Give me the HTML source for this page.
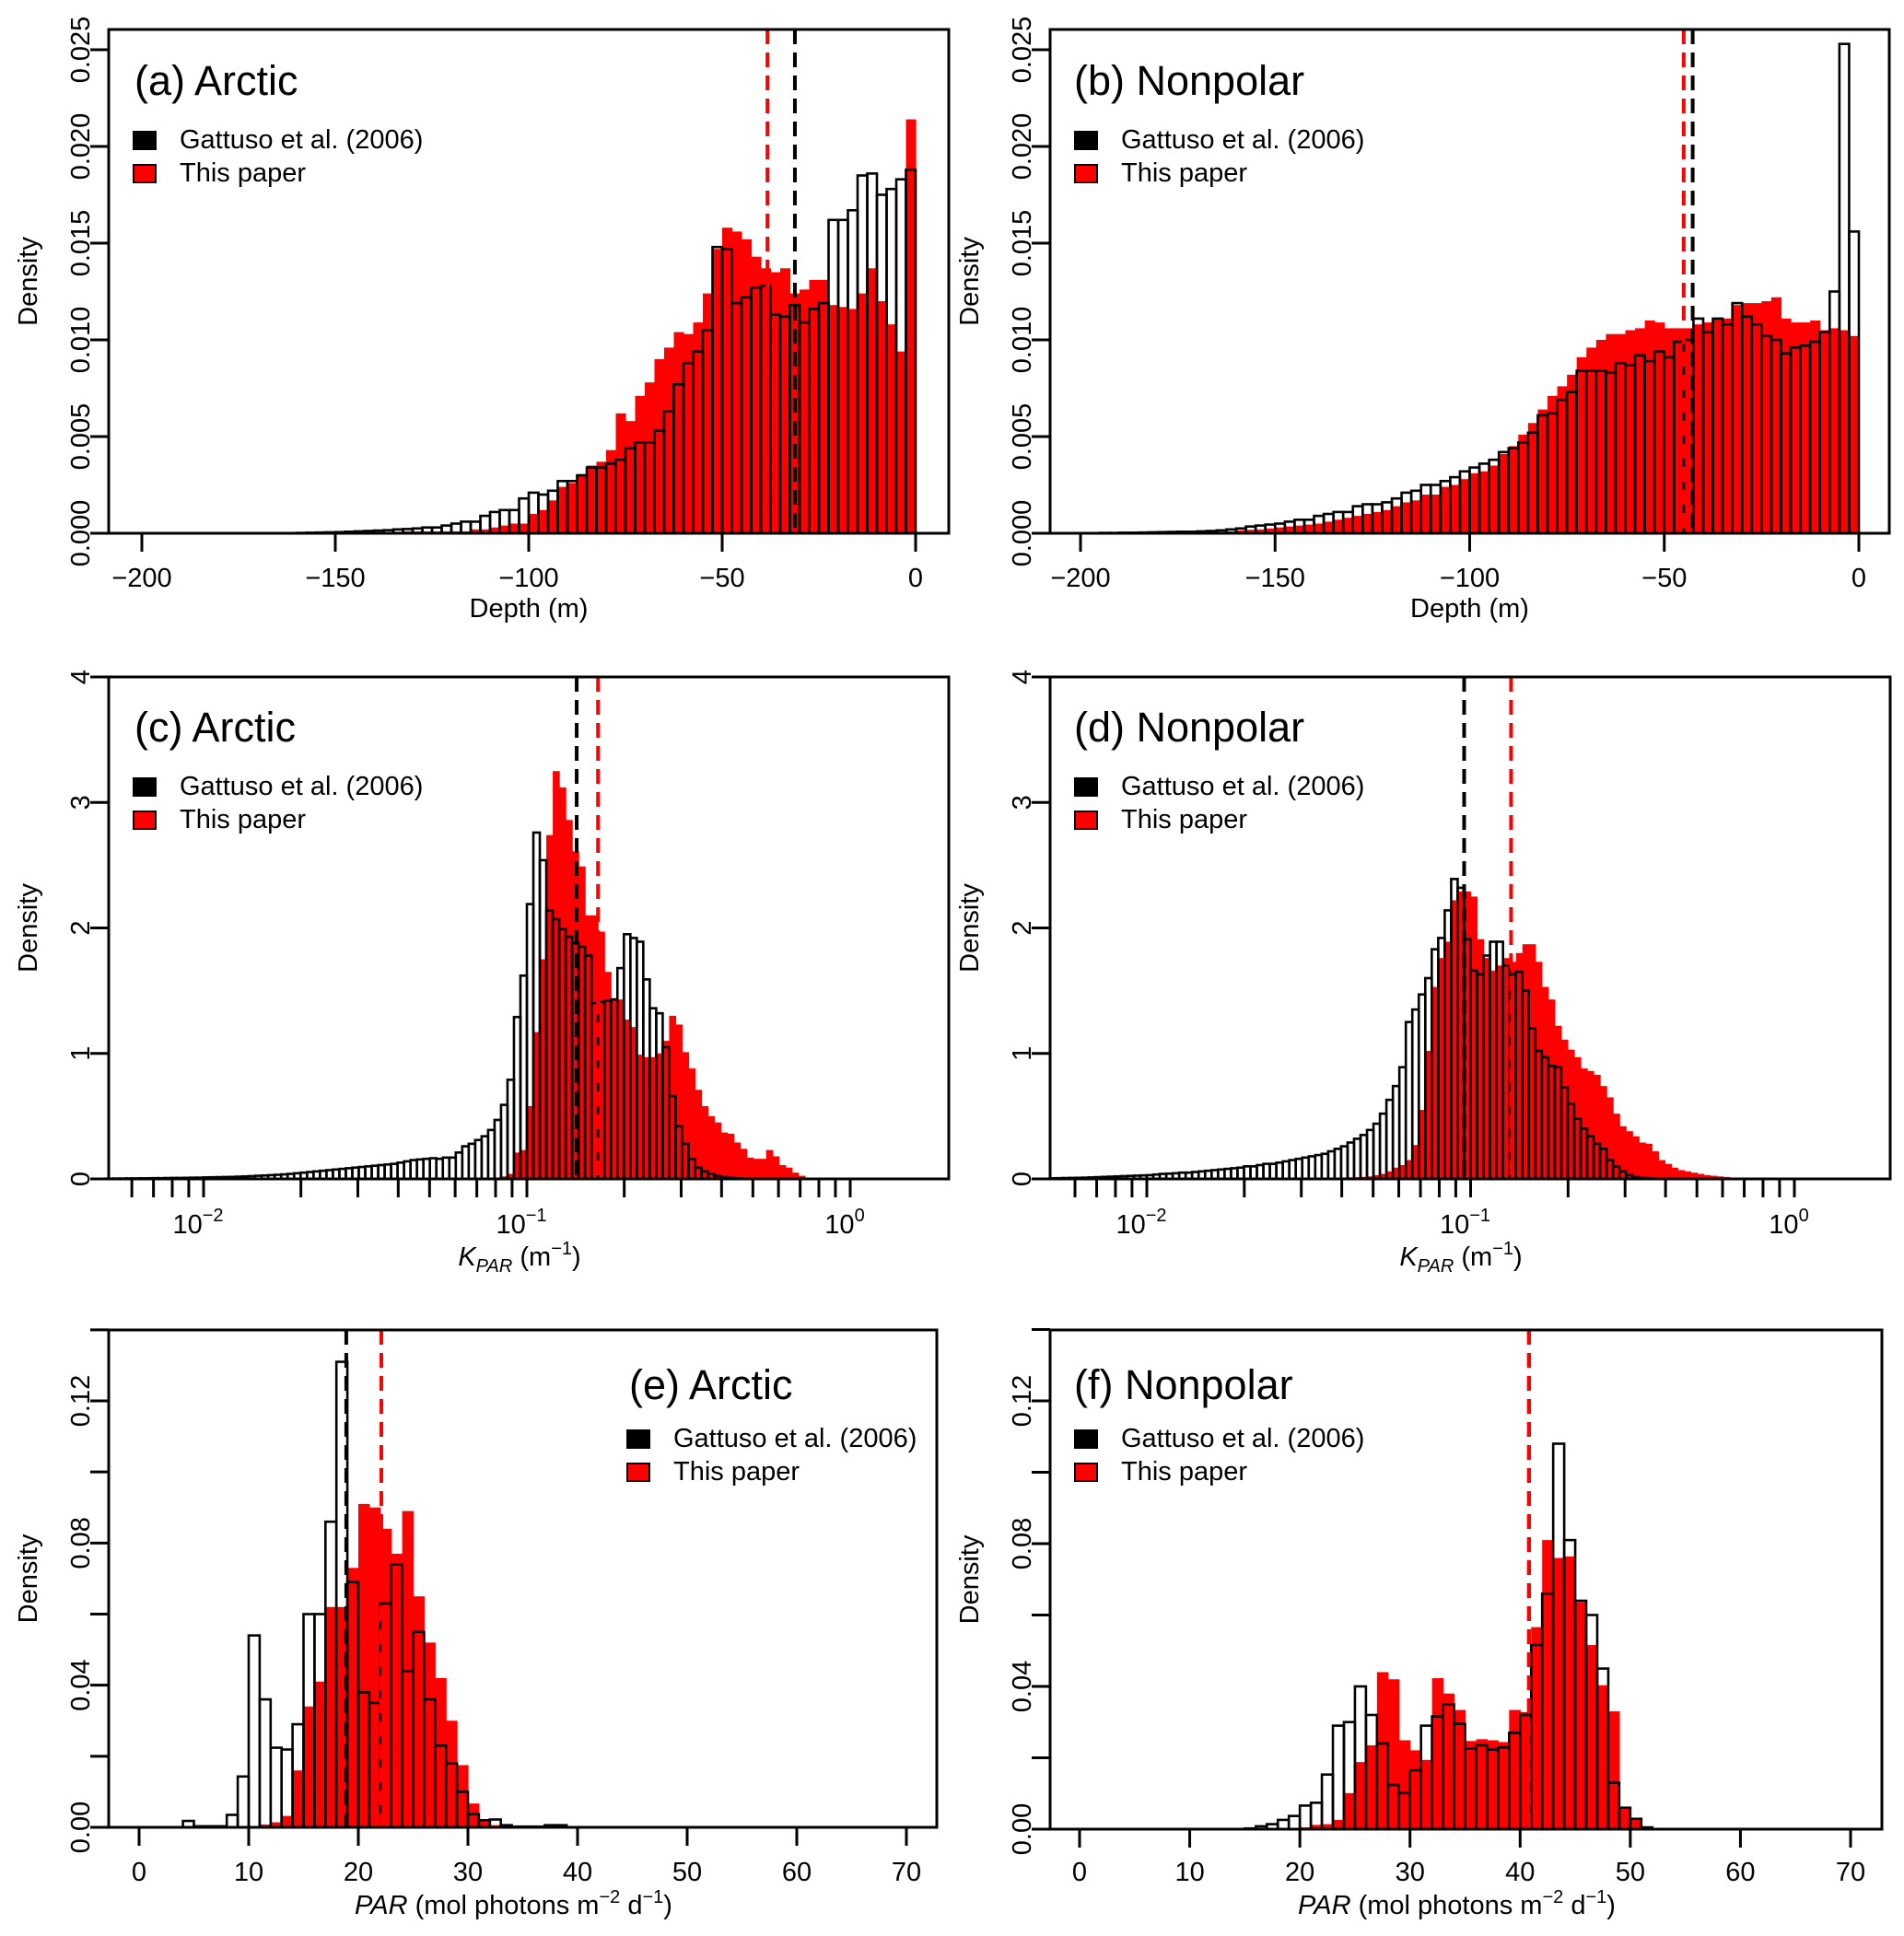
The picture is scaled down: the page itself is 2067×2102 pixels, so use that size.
<!DOCTYPE html>
<html><head><meta charset="utf-8"><title>Depth, KPAR and PAR histograms</title>
<style>html,body{margin:0;padding:0;background:#fff}svg{display:block;font-family:"Liberation Sans",Arial,sans-serif}</style>
</head><body>
<svg id="fig" width="2067" height="2102" viewBox="0 0 2067 2102" xmlns="http://www.w3.org/2000/svg"></svg>
<script>
// ---------- data (bin values) ----------
// Panel a: Depth, Arctic, bins of 2.5 m starting at -200
const aBinStart = -200, aBinWidth = 2.5;
const aGattuso = [0,0,0,0,0,0,0,0,0,0,0,0,0,0,0,0,
0.00002,0.00003,0.00004,0.00005,0.00006,0.00008,0.0001,0.00012,0.00014,0.00016,0.0002,0.00022,
0.00025,0.0003,0.0003,0.0004,0.0005,0.0006,0.0006,0.0009,0.0011,0.0012,
0.0012,0.0018,0.0021,0.0020,0.0022,0.0027,0.0027,0.0030,0.0034,0.0034,
0.0036,0.0038,0.0044,0.0047,0.0047,0.0053,0.0063,0.0077,0.0088,0.0094,
0.0105,0.0148,0.0147,0.0119,0.0122,0.0127,0.0128,0.0113,0.0112,0.0118,
0.0109,0.0116,0.0119,0.0162,0.0162,0.0167,0.0185,0.0186,0.0175,0.0178,
0.0183,0.0188];
const aThisPaper = [0,0,0,0,0,0,0,0,0,0,0,0,0,0,0,0,
0,0,0,0.00002,0.00003,0.00004,0.00005,0.00005,0.00005,0.00005,0.00008,0.0001,
0.0001,0.0001,0.0001,0.0001,0.0001,0.0001,0.0002,0.0002,0.0003,0.0004,
0.0005,0.0005,0.0010,0.0012,0.0017,0.0024,0.0026,0.0030,0.0035,0.0037,
0.0043,0.0062,0.0058,0.0071,0.0078,0.0090,0.0096,0.0104,0.0103,0.0109,
0.0124,0.0147,0.0158,0.0156,0.0152,0.0143,0.0137,0.0135,0.0137,0.0124,
0.0126,0.0131,0.0131,0.0118,0.0117,0.0116,0.0124,0.0137,0.0120,0.0108,
0.0094,0.0214];
const aMeans = [-31.2, -38.3]; // Gattuso, This paper

// Panel b: Depth, Nonpolar
const bBinStart = -200, bBinWidth = 2.5;
const bGattuso = [0.00001,0.00001,0.00002,0.00002,0.00003,0.00003,0.00004,0.00005,0.00006,0.00007,0.00008,0.00008,
0.0001,0.00012,0.00015,0.0002,0.00025,0.00035,0.0004,0.00045,
0.0005,0.0006,0.0007,0.0007,0.0009,0.0010,0.0011,0.0011,0.0014,0.0015,
0.0015,0.0016,0.0018,0.0021,0.0022,0.0025,0.0025,0.0027,0.0029,0.0032,
0.0034,0.0036,0.0038,0.0042,0.0044,0.0047,0.0052,0.0061,0.0062,0.0069,
0.0073,0.0084,0.0084,0.0084,0.0083,0.0088,0.0087,0.0092,0.0089,0.0094,
0.0091,0.0099,0.0100,0.0111,0.0104,0.0111,0.0108,0.0119,0.0112,0.0108,
0.0102,0.0100,0.0093,0.0096,0.0097,0.0099,0.0104,0.0125,0.0253,0.0156];
const bThisPaper = [0,0,0,0,0,0,0,0.00001,0.00002,0.00002,0.00003,0.00004,0.00005,0.00006,0.00008,
0.0001,0.00015,0.00018,0.0002,0.00025,0.0003,0.00035,0.0004,0.00045,
0.0005,0.0006,0.0007,0.0008,0.0009,0.0010,0.0011,0.0012,0.0014,0.0016,
0.0017,0.0020,0.0020,0.0024,0.0025,0.0028,0.0031,0.0032,0.0035,0.0041,
0.0045,0.0051,0.0057,0.0064,0.0071,0.0076,0.0082,0.0091,0.0096,0.0100,
0.0103,0.0103,0.0105,0.0106,0.0110,0.0109,0.0106,0.0106,0.0106,0.0108,
0.0109,0.0111,0.0111,0.0118,0.0119,0.0119,0.0120,0.0122,0.0111,0.0109,
0.0109,0.0110,0.0105,0.0106,0.0105,0.0102];
const bMeans = [-42.7, -45.0];

// Panel c: KPAR Arctic, log10 bins of 0.02
const cBinWidth = 0.02;
const cGattusoStart = -2.30;
const cGattuso = [0.002,0.003,0.003,0.004,0.004,0.005,0.005,0.006,0.006,0.007,0.008,0.008,0.009,0.01,0.01,
0.012,0.013,0.014,0.015,0.016,0.018,0.02,0.022,0.025,0.027,0.03,0.033,0.036,0.04,0.045,0.05,0.055,0.06,
0.065,0.07,0.075,0.08,0.085,0.09,0.095,0.10,0.105,0.11,0.115,0.12,0.13,0.14,0.15,0.155,0.16,0.165,0.16,
0.17,0.17,0.21,0.26,0.28,0.31,0.34,0.39,0.47,0.59,0.79,1.29,1.62,2.19,2.76,
2.54,2.14,2.07,1.99,1.93,1.88,1.85,1.78,1.40,1.41,1.42,1.43,1.68,1.95,1.92,1.89,1.59,1.36,1.32,1.05,
0.66,0.42,0.28,0.16,0.09,0.06,0.04,0.025,0.015,0.01,0.005];
const cThisPaperStart = -1.10;
const cThisPaper = [0.01,0.02,0.04,0.21,0.23,0.58,1.17,1.75,2.74,3.25,3.12,2.86,2.61,2.49,2.10,2.10,1.97,1.65,
1.44,1.43,1.27,1.21,0.99,0.97,0.97,1.00,1.10,1.30,1.23,1.01,0.88,0.71,0.58,0.50,0.45,0.37,0.36,0.29,
0.24,0.17,0.16,0.16,0.23,0.18,0.11,0.09,0.05,0.025,0.01];
const cMeans = [-0.846, -0.78];

// Panel d: KPAR Nonpolar
const dGattusoStart = -2.30;
const dGattuso = [0.005,0.006,0.007,0.008,0.009,0.01,0.012,0.014,0.016,0.018,0.02,0.022,0.024,0.026,0.028,
0.03,0.035,0.04,0.042,0.045,0.05,0.05,0.055,0.06,0.065,0.07,0.075,0.08,0.085,0.09,0.10,0.10,0.11,0.12,0.12,
0.13,0.14,0.15,0.16,0.17,0.18,0.19,0.20,0.22,0.24,0.26,0.29,0.32,0.35,0.39,0.44,0.52,0.63,0.74,0.89,
1.25,1.35,1.47,1.60,1.83,1.92,2.14,2.39,2.32,1.91,1.66,1.63,1.78,1.89,1.89,1.70,1.63,1.65,1.50,1.20,
1.02,0.97,0.90,0.89,0.73,0.60,0.48,0.40,0.34,0.28,0.24,0.15,0.10,0.06,0.03,0.015,0.008,0.004];
const dThisPaperStart = -1.50;
const dThisPaper = [0.005,0.006,0.007,0.008,0.01,0.011,0.012,0.014,0.016,0.02,
0.03,0.04,0.06,0.09,0.11,0.15,0.27,0.55,1.02,1.53,1.76,1.89,2.22,2.29,2.29,2.25,1.91,1.76,1.66,1.70,
1.76,1.73,1.80,1.87,1.87,1.73,1.53,1.43,1.22,1.11,1.03,0.97,0.88,0.86,0.83,0.74,0.65,0.52,0.42,0.38,
0.34,0.29,0.28,0.22,0.15,0.12,0.09,0.07,0.06,0.05,0.04,0.03,0.025,0.02,0.015,0.01,0.008,0.005,0.003];
const dMeans = [-1.02, -0.875];

// Panel e: PAR Arctic, 1-unit bins starting at 0
const eBinStart = 0, eBinWidth = 1;
const eGattuso = [0,0,0,0,0.0018,0.0003,0.0003,0.0003,0.0035,0.0143,0.054,0.036,0.0224,0.0219,0.029,0.060,
0.060,0.086,0.131,0.069,0.038,0.035,0.063,0.074,0.044,0.055,0.036,0.023,0.018,0.010,0.0037,0.002,
0.0022,0.0006,0.0002,0.0002,0.0002,0.0006,0.0006];
const eThisPaper = [0,0,0,0,0,0,0,0,0,0,0.0002,0.0008,0.0014,0.0032,0.016,0.034,0.041,0.062,0.062,0.073,
0.091,0.090,0.084,0.077,0.089,0.065,0.052,0.042,0.030,0.0175,0.0067,0.002,0.0006];
const eMeans = [18.9, 22.1];

// Panel f: PAR Nonpolar
const fBinStart = 0, fBinWidth = 1;
const fGattuso = [0,0,0,0,0,0,0,0,0,0,0,0,0,0,0,0.0002,0.0008,0.0014,0.0026,0.0037,0.0066,0.0074,0.0153,
0.029,0.030,0.040,0.032,0.024,0.0124,0.0101,0.0165,0.029,0.0316,0.035,0.0295,0.0226,0.0235,0.0223,0.0229,
0.027,0.032,0.0516,0.066,0.108,0.081,0.064,0.060,0.045,0.013,0.006,0.0029,0.0005];
const fThisPaper = [0,0,0,0,0,0,0,0,0,0,0,0,0,0,0,0,0,0,0,0.0002,0.0005,0.0012,0.0014,0.0026,0.0101,0.0188,
0.0235,0.044,0.042,0.0249,0.0221,0.0194,0.0423,0.038,0.0334,0.0247,0.0252,0.0249,0.0244,0.0334,0.0328,
0.0566,0.081,0.076,0.0764,0.0636,0.0516,0.0403,0.033,0.006,0.0031];
const fMeans = [40.8, 40.8];

// tick labels
const depthTicks = [-200,-150,-100,-50,0];
const depthTickLabels = ["\u2212200","\u2212150","\u2212100","\u221250","0"];
const depthYTicks = [0,0.005,0.010,0.015,0.020,0.025];
const depthYLabels = ["0.000","0.005","0.010","0.015","0.020","0.025"];
const kDecades = [-2,-1,0];
const kDecadeExp = ["\u22122","\u22121","0"];
const kYTicks = [0,1,2,3,4];
const kYLabels = ["0","1","2","3","4"];
const parTicks = [0,10,20,30,40,50,60,70];
const parYTicks = [0,0.02,0.04,0.06,0.08,0.10,0.12,0.14];
const parYLabels = ["0.00","","0.04","","0.08","","0.12",""];

// ---------- drawing ----------
const NS = "http://www.w3.org/2000/svg";
const svg = document.getElementById("fig");
function mk(tag, attrs, parent){
  const e = document.createElementNS(NS, tag);
  for (const k in attrs) e.setAttribute(k, attrs[k]);
  (parent||svg).appendChild(e);
  return e;
}
function linScale(d0,d1,r0,r1){ return v => r0 + (v-d0)*(r1-r0)/(d1-d0); }

function drawPanel(p){
  const g = mk("g", {});
  
  
  const X = p.x, Y = p.y;
  const rg = mk("g", {}, g);
  
  
  p.red.forEach((v,i)=>{
    if (v<=0) return;
    const x0 = X(p.redStart + i*p.bw), x1 = X(p.redStart + (i+1)*p.bw);
    const r = mk("rect", {x:x0, y:Y(v), width:(x1-x0)+0.6, height:Y(0)-Y(v), fill:"#ff0000"}, rg);
    
    
  });
  const bg = mk("g", {}, g);
  
  
  p.black.forEach((v,i)=>{
    if (v<=0) return;
    const x0 = X(p.blackStart + i*p.bw), x1 = X(p.blackStart + (i+1)*p.bw);
    const r = mk("rect", {x:x0, y:Y(v), width:x1-x0, height:Y(0)-Y(v), fill:"none", stroke:"#000", "stroke-width":2.6}, bg);
    
    
  });
  const ml = mk("line", {x1:X(p.means[0]), x2:X(p.means[0]), y1:p.T, y2:p.B, stroke:"#000", "stroke-width":4, "stroke-dasharray":"16 9"}, g);
  
  
  const mr = mk("line", {x1:X(p.means[1]), x2:X(p.means[1]), y1:p.T, y2:p.B, stroke:"#ff0000", "stroke-width":4, "stroke-dasharray":"16 9"}, g);
  
  
  const box = mk("rect", {x:p.L, y:p.T, width:p.R-p.L, height:p.B-p.T, fill:"none", stroke:"#000", "stroke-width":3}, g);
  
  
  p.yticks.forEach((v,i)=>{
    const t = mk("line", {x1:p.L-20, x2:p.L, y1:Y(v), y2:Y(v), stroke:"#000", "stroke-width":3}, g);
    
    
    if (p.ylabels[i]) {
      const tx = mk("text", {x:p.L-21, y:Y(v), "font-size":29, "text-anchor":"middle", transform:`rotate(-90 ${p.L-21} ${Y(v)})`}, g);
      tx.textContent = p.ylabels[i];
      
      
    }
  });
  const yt = mk("text", {x:p.L-78, y:(p.T+p.B)/2, "font-size":29, "text-anchor":"middle", transform:`rotate(-90 ${p.L-78} ${(p.T+p.B)/2})`}, g);
  yt.textContent = "Density";
  
  
  p.xticks.forEach(v=>{
    const t = mk("line", {x1:X(v), x2:X(v), y1:p.B, y2:p.B+20, stroke:"#000", "stroke-width":3}, g);
    
    
  });
  p.xlabels(g);
  p.xtitle(g);
  const ti = mk("text", {x:p.titleX, y:p.titleY, "font-size":45}, g);
  ti.textContent = p.title;
  
  
  const lg = mk("g", {}, g);
  
  
  const s1 = mk("rect", {x:p.legX, y:p.legY, width:24, height:19, fill:"#000", stroke:"#000", "stroke-width":2}, lg);
  
  
  const t1 = mk("text", {x:p.legX+50, y:p.legY+18, "font-size":29}, lg);
  t1.textContent = "Gattuso et al. (2006)";
  
  
  const s2 = mk("rect", {x:p.legX, y:p.legY+36, width:24, height:19, fill:"#ff0000", stroke:"#000", "stroke-width":2}, lg);
  
  
  const t2 = mk("text", {x:p.legX+50, y:p.legY+54, "font-size":29}, lg);
  t2.textContent = "This paper";
  
  
}

function linXLabels(ticks, labels, baseY){
  return function(g){
    ticks.forEach((v,i)=>{
      const t = mk("text", {x:this.x(v), y:baseY, "font-size":29, "text-anchor":"middle"}, g);
      t.textContent = labels[i];
      
      
    });
  };
}
function logXLabels(baseY){
  return function(g){
    kDecades.forEach((v,i)=>{
      const t = mk("text", {x:this.x(v)-6, y:baseY, "font-size":29, "text-anchor":"middle"}, g);
      t.textContent = "10";
      const s = mk("tspan", {"font-size":20, dy:-13}, t);
      s.textContent = kDecadeExp[i];
      
      
    });
  };
}
function textTitle(cx, baseY, kind){
  return function(g){
    const t = mk("text", {x:cx, y:baseY, "font-size":29, "text-anchor":"middle"}, g);
    if (kind==="depth") t.textContent = "Depth (m)";
    else if (kind==="k") {
      const a = mk("tspan", {"font-style":"italic"}, t); a.textContent = "K";
      const b = mk("tspan", {"font-style":"italic","font-size":20, dy:7}, t); b.textContent = "PAR";
      const c = mk("tspan", {dy:-7}, t); c.textContent = " (m";
      const d = mk("tspan", {"font-size":20, dy:-12}, t); d.textContent = "\u22121";
      const e = mk("tspan", {dy:12}, t); e.textContent = ")";
    } else {
      const a = mk("tspan", {"font-style":"italic"}, t); a.textContent = "PAR";
      const b = mk("tspan", {}, t); b.textContent = " (mol photons m";
      const c = mk("tspan", {"font-size":20, dy:-12}, t); c.textContent = "\u22122";
      const d = mk("tspan", {dy:12}, t); d.textContent = " d";
      const e = mk("tspan", {"font-size":20, dy:-12}, t); e.textContent = "\u22121";
      const f = mk("tspan", {dy:12}, t); f.textContent = ")";
    }
    
    
  };
}
const logMinor = [];
[-3,-2,-1].forEach(d=>{ for(let m=1;m<10;m++){ const v=Math.log10(m)+d; if(v>=Math.log10(0.0059)) logMinor.push(v);} });
logMinor.push(0);

const panels = [
 {name:"panel-a-depth-arctic", L:118,R:1030,T:32,B:579, x:linScale(-200,0,154,994), y:linScale(0,0.025,579,54),
  bw:aBinWidth, blackStart:aBinStart, redStart:aBinStart, black:aGattuso, red:aThisPaper, means:aMeans,
  yticks:depthYTicks, ylabels:depthYLabels, xticks:depthTicks, title:"(a) Arctic", titleX:146,titleY:103, legX:145,legY:143,
  labelsY:637, kind:"depth", titleBase:670},
 {name:"panel-b-depth-nonpolar", L:1140,R:2051,T:32,B:579, x:linScale(-200,0,1173,2018), y:linScale(0,0.025,579,54),
  bw:bBinWidth, blackStart:bBinStart, redStart:bBinStart, black:bGattuso, red:bThisPaper, means:bMeans,
  yticks:depthYTicks, ylabels:depthYLabels, xticks:depthTicks, title:"(b) Nonpolar", titleX:1166,titleY:103, legX:1167,legY:143,
  labelsY:637, kind:"depth", titleBase:670},
 {name:"panel-c-kpar-arctic", L:118,R:1030,T:735,B:1280, x:linScale(-2,0,221,923), y:linScale(0,4,1280,735),
  bw:cBinWidth, blackStart:cGattusoStart, redStart:cThisPaperStart, black:cGattuso, red:cThisPaper, means:cMeans,
  yticks:kYTicks, ylabels:kYLabels, xticks:logMinor, title:"(c) Arctic", titleX:146,titleY:805, legX:145,legY:845,
  log:true, labelsY:1339, kind:"k", titleBase:1374},
 {name:"panel-d-kpar-nonpolar", L:1140,R:2052,T:735,B:1280, x:linScale(-2,0,1245,1948), y:linScale(0,4,1280,735),
  bw:cBinWidth, blackStart:dGattusoStart, redStart:dThisPaperStart, black:dGattuso, red:dThisPaper, means:dMeans,
  yticks:kYTicks, ylabels:kYLabels, xticks:logMinor, title:"(d) Nonpolar", titleX:1166,titleY:805, legX:1167,legY:845,
  log:true, labelsY:1339, kind:"k", titleBase:1374},
 {name:"panel-e-par-arctic", L:118,R:1017,T:1444,B:1984, x:linScale(0,70,151,984), y:linScale(0,0.12,1984,1521),
  bw:eBinWidth, blackStart:eBinStart, redStart:eBinStart, black:eGattuso, red:eThisPaper, means:eMeans,
  yticks:parYTicks, ylabels:parYLabels, xticks:parTicks, title:"(e) Arctic", titleX:683,titleY:1519, legX:681,legY:1553,
  labelsY:2042, kind:"par", titleBase:2078},
 {name:"panel-f-par-nonpolar", L:1140,R:2043,T:1444,B:1986, x:linScale(0,70,1172,2009), y:linScale(0,0.12,1986,1521),
  bw:fBinWidth, blackStart:fBinStart, redStart:fBinStart, black:fGattuso, red:fThisPaper, means:fMeans,
  yticks:parYTicks, ylabels:parYLabels, xticks:parTicks, title:"(f) Nonpolar", titleX:1166,titleY:1519, legX:1167,legY:1553,
  labelsY:2042, kind:"par", titleBase:2078}
];
panels.forEach(p=>{
  if (p.log) p.xlabels = logXLabels(p.labelsY);
  else p.xlabels = linXLabels(p.xticks, p.kind==="depth" ? depthTickLabels : p.xticks.map(String), p.labelsY);
  p.xtitle = textTitle(p.kind==="depth" ? (p.L+p.R)/2 : (p.L+p.R)/2 - 10, p.titleBase, p.kind);
  drawPanel(p);
});
</script>
</body></html>
